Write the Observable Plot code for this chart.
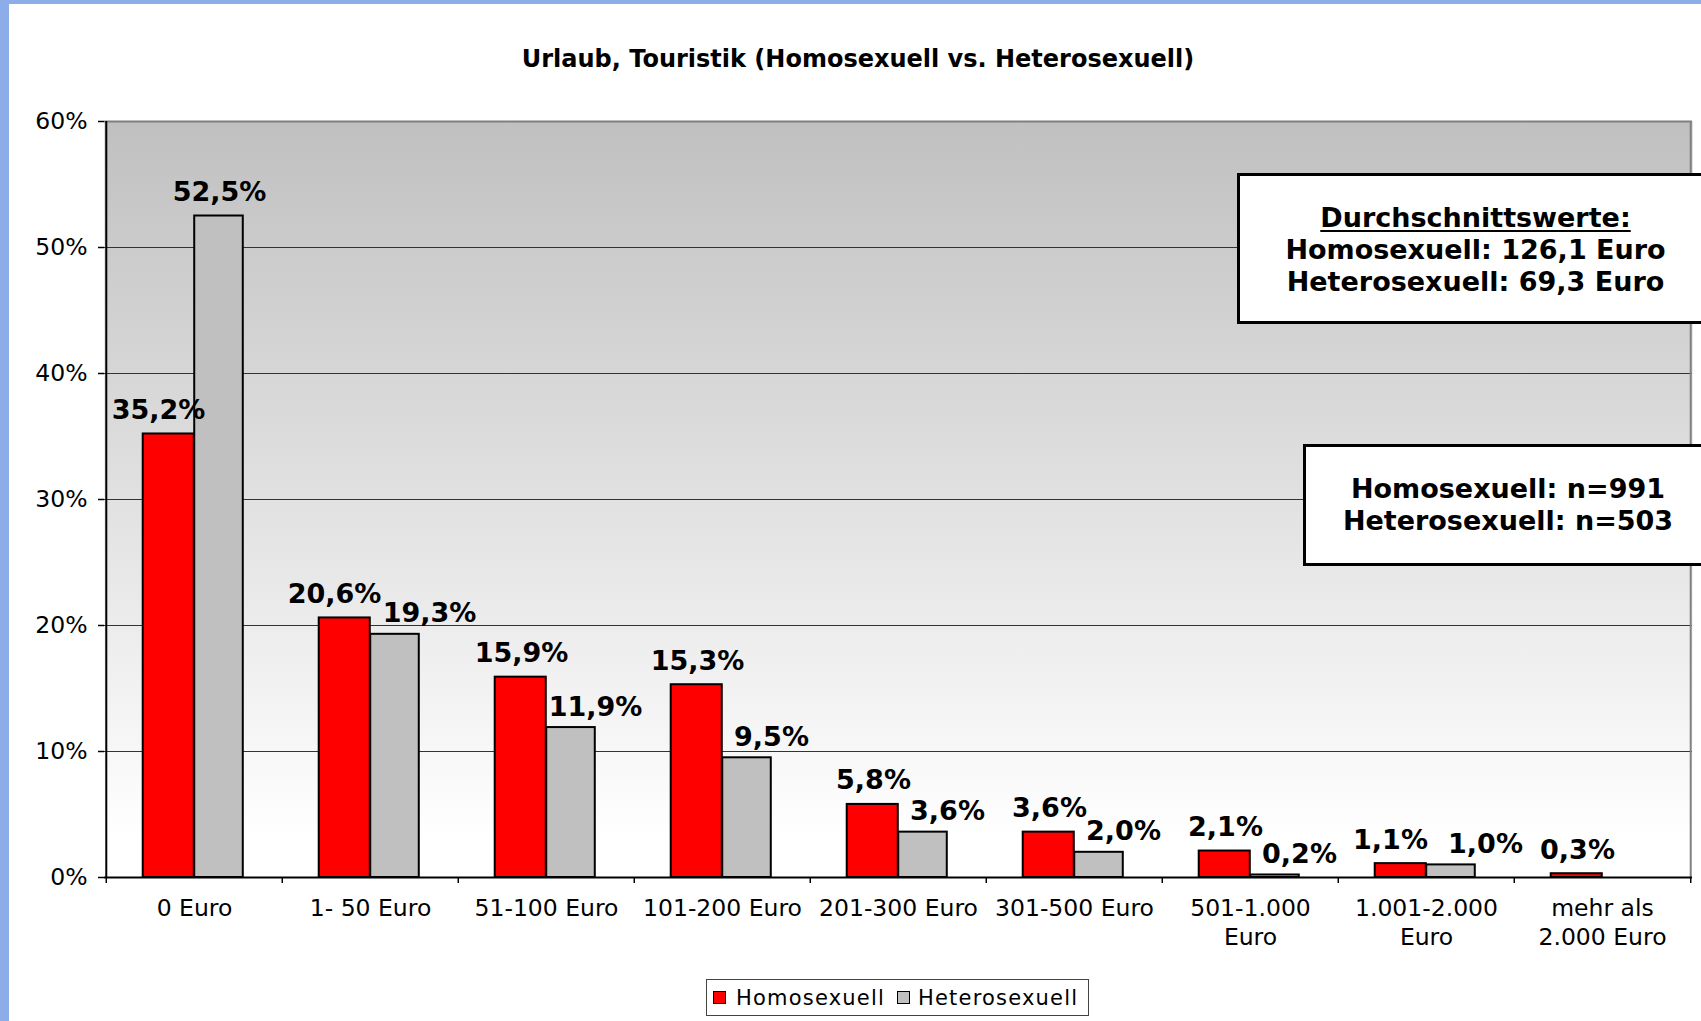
<!DOCTYPE html>
<html>
<head>
<meta charset="utf-8">
<script src="https://cdn.jsdelivr.net/npm/d3@7"></script>
<script src="https://cdn.jsdelivr.net/npm/@observablehq/plot@0.6"></script>
<style>
  html, body { margin: 0; padding: 0; background: #fff; }
  #wrap { position: relative; width: 1701px; height: 1021px; overflow: hidden; background: #fff; }
  #wrap svg { position: absolute; left: 0; top: 0; }
  .strip-left { position: absolute; left: 0; top: 0; width: 9px; height: 1021px; background: #8DADE8; }
  .strip-top { position: absolute; left: 0; top: 0; width: 1701px; height: 4px; background: #8DADE8; }
  #title { position: absolute; left: 0; top: 47px; width: 1716px; text-align: center;
           font: bold 24px/24px "DejaVu Sans", sans-serif; color: #000; white-space: nowrap; }
  .box { position: absolute; box-sizing: border-box; border: 3px solid #000; background: #fff;
         text-align: center; font: bold 27px/32px "DejaVu Sans", sans-serif; color: #000; white-space: nowrap; }
  .box u { text-decoration-thickness: 2px; text-underline-offset: 3px; }
  #legend { position: absolute; left: 706px; top: 979px; width: 383px; height: 37px; box-sizing: border-box;
            border: 1px solid #444; background: #fff; }
  .sw { position: absolute; top: 11px; width: 13px; height: 13px; box-sizing: border-box; border: 1.5px solid #000; }
  .lt { position: absolute; top: 7.7px; font: 21px/20px "DejaVu Sans", sans-serif; letter-spacing: 1.2px; color: #000; white-space: nowrap; }
</style>
</head>
<body>
<div id="wrap"></div>
<script>
// ---------- data ----------
const categories = ["0 Euro", "1- 50 Euro", "51-100 Euro", "101-200 Euro", "201-300 Euro",
                    "301-500 Euro", "501-1.000 Euro", "1.001-2.000 Euro", "mehr als 2.000 Euro"];
const tickLabels = ["0 Euro", "1- 50 Euro", "51-100 Euro", "101-200 Euro", "201-300 Euro",
                    "301-500 Euro", "501-1.000\nEuro", "1.001-2.000\nEuro", "mehr als\n2.000 Euro"];
const seriesNames = ["Homosexuell", "Heterosexuell"];
const homosexuell = [35.2, 20.6, 15.9, 15.3, 5.8, 3.6, 2.1, 1.1, 0.3];
const heterosexuell = [52.5, 19.3, 11.9, 9.5, 3.6, 2.0, 0.2, 1.0, null];
const yTicks = [0, 10, 20, 30, 40, 50, 60];
const titleText = "Urlaub, Touristik (Homosexuell vs. Heterosexuell)";
const averagesTitle = "Durchschnittswerte:";
const averages = ["Homosexuell: 126,1 Euro", "Heterosexuell: 69,3 Euro"];
const sampleSizes = ["Homosexuell: n=991", "Heterosexuell: n=503"];

// ---------- layout ----------
const W = 1701, H = 1021;
const ML = 104, MR = 9, MT = 121, MB = 144;
const bw = (W - ML - MR) / categories.length;
const BAR = 51;

const homoData = categories.map((c, i) => ({cat: c, value: homosexuell[i], other: heterosexuell[i]})).filter(d => d.value != null);
const heteroData = categories.map((c, i) => ({cat: c, value: heterosexuell[i], other: homosexuell[i]})).filter(d => d.value != null);
const fmt = v => v.toFixed(1).replace(".", ",") + "%";

// label placement rules (collision avoidance, like the original's data labels)
const close = d => d.other != null && Math.abs(d.value - d.other) < 1.5;       // labels at about the same height
const homoPushedLeft = d => close(d) || (d.other != null && d.other > d.value);   // grey bar / label next to it
const heteroCentred = d => d.other == null || d.value > d.other;                 // grey bar is the tallest

const colors = {Homosexuell: "#FF0000", Heterosexuell: "#C0C0C0"};

const defs = () => {
  const d = d3.create("svg:defs");
  const g = d.append("linearGradient").attr("id", "plotBg").attr("x1", 0).attr("y1", 0).attr("x2", 0).attr("y2", 1);
  g.append("stop").attr("offset", "0%").attr("stop-color", "#C0C0C0");
  g.append("stop").attr("offset", "95%").attr("stop-color", "#FFFFFF");
  g.append("stop").attr("offset", "100%").attr("stop-color", "#FFFFFF");
  return d.node();
};

const labelFont = {fontFamily: "DejaVu Sans", fontWeight: "bold", fontSize: 27, fill: "#000", lineAnchor: "bottom"};
const lbl = (data, dx, dy) => Plot.text(data, {x: "cat", y: "value", text: d => fmt(d.value), dx, dy, ...labelFont});

const chart = Plot.plot({
  width: W, height: H,
  marginLeft: ML, marginRight: MR, marginTop: MT, marginBottom: MB,
  style: {fontFamily: "'DejaVu Sans', sans-serif", fontSize: "23.5px", background: "transparent", overflow: "visible", color: "#000"},
  x: {type: "band", domain: categories, padding: 0, axis: null},
  y: {domain: [0, 60], axis: null},
  marks: [
    defs,
    Plot.frame({fill: "url(#plotBg)", stroke: "none"}),
    Plot.ruleY(yTicks.filter(t => t > 0 && t < 60), {stroke: "#333", strokeWidth: 1}),
    Plot.ruleY([60], {stroke: "#808080", strokeWidth: 2}),
    Plot.ruleX([categories[categories.length - 1]], {dx: bw / 2, stroke: "#808080", strokeWidth: 2}),
    Plot.barY(homoData, {x: "cat", y: "value", fill: colors.Homosexuell, stroke: "#000", strokeWidth: 2,
      insetLeft: bw / 2 - BAR - 0.5, insetRight: bw / 2}),
    Plot.barY(heteroData, {x: "cat", y: "value", fill: colors.Heterosexuell, stroke: "#000", strokeWidth: 2,
      insetLeft: bw / 2, insetRight: bw / 2 - BAR + 2}),
    Plot.ruleX([categories[0]], {dx: -bw / 2, stroke: "#000", strokeWidth: 2}),
    Plot.ruleY([0], {stroke: "#000", strokeWidth: 2}),
    Plot.axisY(yTicks, {tickSize: 6, tickPadding: 11, tickFormat: d => d + "%", fontSize: 23.5, strokeWidth: 1.5, label: null}),
    Plot.axisX(categories, {tickSize: 6, tickFormat: () => "", dx: -bw / 2, strokeWidth: 1.5, label: null}),
    Plot.axisX([categories[categories.length - 1]], {tickSize: 6, tickFormat: () => "", dx: bw / 2, strokeWidth: 1.5, label: null}),
    Plot.axisX(categories, {tickSize: 0, tickPadding: 17.5, fontSize: 23.5, lineHeight: 1.25, label: null,
      tickFormat: d => tickLabels[categories.indexOf(d)]}),
    // Homosexuell labels
    lbl(homoData.filter(d => !homoPushedLeft(d)), -25, -15),
    lbl(homoData.filter(homoPushedLeft), -36, -15),
    // Heterosexuell labels
    lbl(heteroData.filter(heteroCentred), 25, -15),
    lbl(heteroData.filter(d => !heteroCentred(d) && !close(d)), 49, -12),
    lbl(heteroData.filter(d => !heteroCentred(d) && close(d)), 59, -12)
  ]
});

const wrap = document.getElementById("wrap");
wrap.appendChild(chart);

const addDiv = (cls, style, html) => {
  const el = document.createElement("div");
  if (cls) el.className = cls;
  if (style) el.setAttribute("style", style);
  if (html != null) el.innerHTML = html;
  wrap.appendChild(el);
  return el;
};

const title = addDiv(null, null, null);
title.id = "title";
title.textContent = titleText;

addDiv("box", "left:1237px;top:173px;width:477px;height:151px;padding-top:26px;",
  `<u>${averagesTitle}</u><br>${averages[0]}<br>${averages[1]}`);
addDiv("box", "left:1303px;top:444px;width:410px;height:122px;padding-top:26px;",
  `${sampleSizes[0]}<br>${sampleSizes[1]}`);

const legend = addDiv(null, null, null);
legend.id = "legend";
const legendItems = [
  {name: seriesNames[0], sw: 6, tx: 29},
  {name: seriesNames[1], sw: 190, tx: 211}
];
legendItems.forEach(it => {
  const s = document.createElement("div");
  s.className = "sw";
  s.style.left = it.sw + "px";
  s.style.background = colors[it.name];
  legend.appendChild(s);
  const t = document.createElement("div");
  t.className = "lt";
  t.style.left = it.tx + "px";
  t.textContent = it.name;
  legend.appendChild(t);
});

addDiv("strip-left");
addDiv("strip-top");
</script>
</body>
</html>
